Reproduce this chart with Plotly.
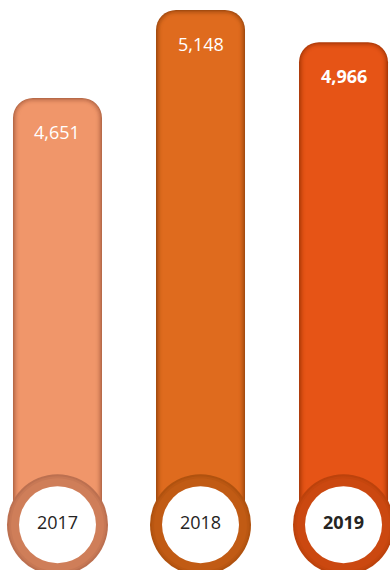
import plotly.graph_objects as go

years = ["2017", "2018", "2019"]
values = [4651, 5148, 4966]
value_labels = ["4,651", "5,148", "4,966"]
bold_flags = [False, False, True]

main_colors = ["#F0966A", "#DF6B1E", "#E65416"]
edge_colors = ["#B86A48", "#A54C10", "#AE3A08"]
ring_colors = ["#BC7050", "#B0520F", "#BC420C"]

BASE = 2240
Y_MIN, Y_MAX = 1984, 5204
PX = 570 / (Y_MAX - Y_MIN)  # pixels per unit
X_MIN, X_MAX = -0.402, 2.325
XPX = 390 / (X_MAX - X_MIN)


def mix(c1, c2, t):
    a = [int(c1[i:i + 2], 16) for i in (1, 3, 5)]
    b = [int(c2[i:i + 2], 16) for i in (1, 3, 5)]
    return "#" + "".join(f"{round(a[k] + (b[k] - a[k]) * t):02x}" for k in range(3))


fig = go.Figure()
xs = list(range(len(years)))

# layered bars for inner-shadow look
layers = 7
bar_px = 89
for li in range(layers):
    inset = li * 1.1
    t = li / (layers - 1)
    t = 1 - (1 - t) ** 2
    cols = [mix(edge_colors[i], main_colors[i], t) for i in range(3)]
    fig.add_trace(go.Bar(
        x=xs,
        y=[v - BASE - inset / PX for v in values],
        base=BASE,
        width=(bar_px - 2 * inset) / XPX,
        marker=dict(color=cols, line=dict(width=0), cornerradius=max(20 - inset, 4)),
        hoverinfo="skip",
        showlegend=False,
    ))

# rings at the bottom
for li, (sz, tt) in enumerate([(101, 0.0), (97, 0.35), (93, 0.6)]):
    fig.add_trace(go.Scatter(
        x=xs, y=[BASE] * 3, mode="markers",
        marker=dict(size=sz, color=[mix(ring_colors[i], main_colors[i], tt * 0.6) for i in range(3)],
                    line=dict(width=0)),
        hoverinfo="skip", showlegend=False,
    ))
fig.add_trace(go.Scatter(
    x=xs, y=[BASE] * 3, mode="markers+text",
    marker=dict(size=77, color="white", line=dict(width=0)),
    text=[f"<b>{y}</b>" if b else y for y, b in zip(years, bold_flags)],
    textposition="middle center",
    textfont=dict(family="Open Sans", size=18, color="#252423"),
    hoverinfo="skip", showlegend=False,
))

for i, v in enumerate(values):
    fig.add_annotation(
        x=xs[i], y=v, yshift=-34, showarrow=False,
        text=f"<b>{value_labels[i]}</b>" if bold_flags[i] else value_labels[i],
        font=dict(family="Open Sans", size=18, color="white"),
        yanchor="middle",
    )

fig.update_layout(
    width=390, height=570,
    margin=dict(l=0, r=0, t=0, b=0),
    paper_bgcolor="white", plot_bgcolor="white",
    barmode="overlay",
    xaxis=dict(range=[X_MIN, X_MAX], visible=False, fixedrange=True),
    yaxis=dict(range=[Y_MIN, Y_MAX], visible=False, fixedrange=True),
)

fig.write_html("out.html", config={"displayModeBar": False},
               post_script="document.body.style.margin='0';document.body.style.overflow='hidden';")
